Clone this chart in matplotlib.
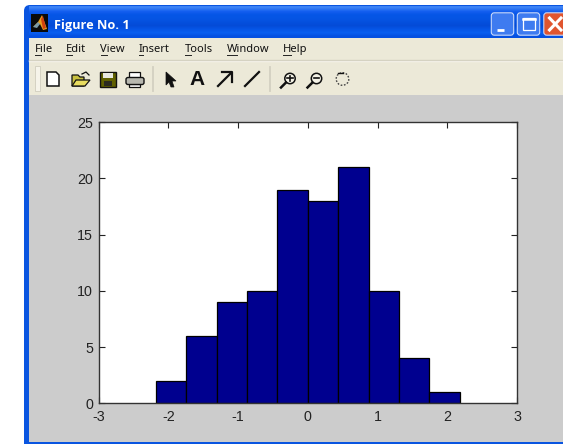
import numpy as np
import matplotlib
matplotlib.use("Agg")
import matplotlib.pyplot as plt
from matplotlib.patches import Rectangle, FancyBboxPatch, Polygon, Circle

# ---- data ----
bin_edges = [-2.18, -1.744, -1.308, -0.872, -0.436, 0.0, 0.436, 0.872, 1.308, 1.744, 2.18]
counts = [2, 6, 9, 10, 19, 18, 21, 10, 4, 1]
x_ticks = [-3, -2, -1, 0, 1, 2, 3]
y_ticks = [0, 5, 10, 15, 20, 25]
window_title = "Figure No. 1"
menu_items = ["File", "Edit", "View", "Insert", "Tools", "Window", "Help"]
menu_x = [35, 66, 100.5, 139, 185, 227, 283]

W, H = 563, 444
fig = plt.figure(figsize=(W / 100, H / 100), dpi=100, facecolor="white")

# ---- window chrome, in pixel coordinates ----
c = fig.add_axes([0, 0, 1, 1], zorder=0)
c.set_xlim(0, W); c.set_ylim(H, 0); c.axis("off")

BLUE = "#0A55E0"
c.add_patch(FancyBboxPatch((27, 8), W, H, boxstyle="round,pad=3,rounding_size=6",
                           fc=BLUE, ec="none", mutation_aspect=1))
grad = np.array([[[60, 130, 245], [20, 95, 240], [5, 85, 230], [5, 85, 228], [5, 80, 222],
                  [4, 75, 215], [6, 85, 230], [10, 95, 240], [5, 80, 225]]], dtype=np.uint8).transpose(1, 0, 2)
c.imshow(grad, extent=[29, W, 38, 6], aspect="auto", interpolation="bilinear", zorder=1)
c.set_xlim(0, W); c.set_ylim(H, 0)

c.add_patch(Rectangle((28.5, 38), W, 403.5, fc="#CCCCCC", ec="none", zorder=1.5))
c.add_patch(Rectangle((28.5, 38), W, 57, fc="#ECE9D8", ec="none", zorder=2))
c.plot([28.5, W], [61, 61], color="#F8F6EE", lw=1.0, zorder=2.1)
c.plot([28.5, W], [60, 60], color="#D5D2C2", lw=1.0, zorder=2.1)

# title-bar icon and text
c.add_patch(Rectangle((31, 14), 17, 18, fc="#0A0A0A", ec="none", zorder=3))
c.add_patch(Polygon([[33, 27], [38, 22], [42, 15], [47, 29], [43, 30], [40, 24]],
                    fc="#E8A020", ec="none", zorder=3.1))
c.add_patch(Polygon([[33, 27], [38, 22], [40, 24], [37, 28]], fc="#7A9AA8", ec="none", zorder=3.2))
c.add_patch(Polygon([[41, 19], [43, 16], [46, 28], [43, 29]], fc="#D04010", ec="none", zorder=3.2))
c.text(53.5, 25.5, window_title, color="white", fontsize=9.2, fontweight="bold",
       family="Open Sans", va="center", ha="left", zorder=3)

# window buttons
def button(x, col):
    c.add_patch(FancyBboxPatch((x, 14), 20, 20, boxstyle="round,pad=1.2,rounding_size=3",
                               fc=col, ec="#C8D8FA", lw=0.8, zorder=3))
button(492.5, "#3E7BF0")
button(518.5, "#3E7BF0")
button(545, "#E0552F")
c.plot([497, 504], [30, 30], color="white", lw=2.0, zorder=4, solid_capstyle="butt")
c.add_patch(Rectangle((523, 18), 11.5, 12, fc="none", ec="white", lw=0.9, zorder=4))
c.plot([523, 534.5], [19.5, 19.5], color="white", lw=1.8, zorder=4)
c.plot([549.5, 561], [18, 30], color="white", lw=2.2, zorder=4)
c.plot([549.5, 561], [30, 18], color="white", lw=2.2, zorder=4)

# menu bar
rend = fig.canvas.get_renderer()
for label, x in zip(menu_items, menu_x):
    c.text(x, 49.5, label, fontsize=8.0, family="Noto Sans", color="#111111",
           va="center", ha="left", zorder=3)
    first = c.text(x, 49.5, label[0], fontsize=8.0, family="Noto Sans", alpha=0)
    wpx = first.get_window_extent(rend).width
    first.remove()
    c.plot([x, x + wpx], [55, 55], color="#222222", lw=0.7, zorder=3)

# toolbar separators
for x, w in [(34.5, 5), (151.5, 1.2), (268.5, 1.2)]:
    c.add_patch(Rectangle((x, 66), w, 25, fc="#F6F4EA", ec="#D0CDBE", lw=0.6, zorder=3))

z = 4
K = "#111111"
# new
c.add_patch(Polygon([[47, 72], [56, 72], [59, 75], [59, 86], [47, 86]], fc="white", ec=K, lw=1.1, zorder=z))
# open
c.add_patch(Polygon([[72, 75], [78, 75], [80, 77], [84, 77], [84, 86], [72, 86]], fc="#C8C040", ec=K, lw=0.9, zorder=z))
c.add_patch(Polygon([[72, 86], [76, 80], [90, 80], [85, 86]], fc="#E8DC60", ec=K, lw=0.9, zorder=z))
c.plot([82, 86, 89], [74, 72, 75], color=K, lw=0.9, zorder=z)
# save
c.add_patch(Rectangle((100, 72), 15.5, 15, fc="#606000", ec=K, lw=1.0, zorder=z))
c.add_patch(Rectangle((103, 73), 9.5, 5.5, fc="#E8E8E0", ec="none", zorder=z + 0.1))
c.add_patch(Rectangle((103.5, 81.5), 8.5, 5, fc="#2A2A20", ec="none", zorder=z + 0.1))
# print
c.add_patch(Rectangle((129, 72), 11, 6, fc="white", ec=K, lw=0.9, zorder=z))
c.add_patch(FancyBboxPatch((126.5, 78), 17, 6, boxstyle="round,pad=0.5,rounding_size=2", fc="#B8B8B0", ec=K, lw=1.0, zorder=z + 0.1))
c.add_patch(Rectangle((129, 84), 11, 3, fc="white", ec=K, lw=0.9, zorder=z))
# pointer
c.add_patch(Polygon([[166, 72], [176, 81], [172, 81], [174, 87], [171, 87], [169, 82], [166, 85]], fc=K, ec=K, lw=0.5, zorder=z))
# A
c.text(197.5, 79.5, "A", fontsize=15, fontweight="bold", family="Liberation Sans", color=K,
       ha="center", va="center", zorder=z)
# arrow
c.plot([218, 231], [86, 73], color=K, lw=1.6, zorder=z)
c.plot([222, 232, 232], [72, 72, 82], color=K, lw=1.6, zorder=z)
# line
c.plot([245, 259], [86, 72], color=K, lw=1.6, zorder=z)
# zoom glasses
def glass(x, y, sign):
    c.add_patch(Circle((x, y), 5.2, fc="#F4F2E6", ec=K, lw=1.1, zorder=z))
    c.plot([x - 4, x - 9], [y + 4, y + 9], color=K, lw=1.8, zorder=z)
    c.plot([x - 2.8, x + 2.8], [y, y], color=K, lw=1.2, zorder=z + 0.1)
    if sign:
        c.plot([x, x], [y - 2.8, y + 2.8], color=K, lw=1.2, zorder=z + 0.1)
glass(290, 78.5, True)
glass(316.5, 78.5, False)
# rotate
c.add_patch(Circle((342.5, 79), 6.3, fc="none", ec="#444444", lw=1.0, ls=(0, (1.2, 1.2)), zorder=z))
c.plot([338, 343], [73, 73], color=K, lw=1.0, zorder=z)

# ---- the histogram ----
L, R, T, B = 98.7, 517, 122, 403.3
ax = fig.add_axes([L / W, 1 - B / H, (R - L) / W, (B - T) / H], zorder=5)
ax.set_facecolor("white")
widths = np.diff(bin_edges)
ax.bar(bin_edges[:-1], counts, width=widths, align="edge", color="#00008F",
       edgecolor="#000000", linewidth=0.9, zorder=2)
ax.set_xlim(x_ticks[0], x_ticks[-1])
ax.set_ylim(y_ticks[0], y_ticks[-1])
ax.set_xticks(x_ticks); ax.set_yticks(y_ticks)
ax.set_xticklabels([str(v) for v in x_ticks])
ax.set_yticklabels([str(v) for v in y_ticks])
ax.tick_params(direction="in", top=True, right=True, length=4, width=0.8,
               color="#222222", labelsize=10.3, labelcolor="#222222", pad=4)
ax.tick_params(axis="x", pad=5)
for lab in ax.get_xticklabels() + ax.get_yticklabels():
    lab.set_family("Liberation Sans")
for s in ax.spines.values():
    s.set_linewidth(1.0); s.set_color("#333333")

fig.savefig("out.png", dpi=100)
